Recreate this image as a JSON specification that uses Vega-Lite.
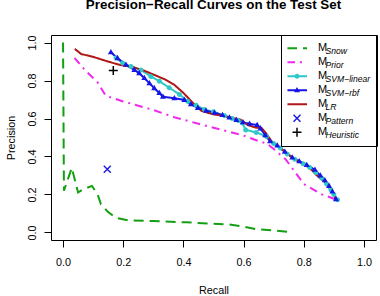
{
  "$schema": "https://vega.github.io/schema/vega-lite/v6.json",
  "width": 325,
  "height": 205,
  "autosize": "none",
  "padding": {"left": 51, "top": 35, "right": 4, "bottom": 56},
  "background": "white",
  "title": {
    "text": "Precision−Recall Curves on the Test Set",
    "font": "Liberation Sans",
    "fontSize": 13.4,
    "fontWeight": "bold",
    "color": "black",
    "anchor": "middle",
    "frame": "group",
    "baseline": "alphabetic",
    "offset": 12.5
  },
  "config": {
    "view": {"stroke": "black", "strokeWidth": 1},
    "font": "Liberation Sans",
    "axis": {
      "grid": false,
      "domain": false,
      "tickSize": 7,
      "tickColor": "black",
      "tickWidth": 1,
      "labelFont": "Liberation Sans",
      "labelFontSize": 10.8,
      "labelColor": "black",
      "labelFlush": false,
      "labelOverlap": false,
      "titleFont": "Liberation Sans",
      "titleFontSize": 10.8,
      "titleFontWeight": "normal",
      "titleColor": "black"
    }
  },
  "datasets": {
    "pr": [
      {"model": "Snow", "recall": 0.0, "precision": 1.0},
      {"model": "Snow", "recall": 0.003, "precision": 0.22},
      {"model": "Snow", "recall": 0.029, "precision": 0.34},
      {"model": "Snow", "recall": 0.05, "precision": 0.21},
      {"model": "Snow", "recall": 0.065, "precision": 0.225},
      {"model": "Snow", "recall": 0.096, "precision": 0.245},
      {"model": "Snow", "recall": 0.115, "precision": 0.2},
      {"model": "Snow", "recall": 0.126, "precision": 0.148},
      {"model": "Snow", "recall": 0.148, "precision": 0.11},
      {"model": "Snow", "recall": 0.176, "precision": 0.076},
      {"model": "Snow", "recall": 0.22, "precision": 0.063},
      {"model": "Snow", "recall": 0.3, "precision": 0.06},
      {"model": "Snow", "recall": 0.41, "precision": 0.053},
      {"model": "Snow", "recall": 0.55, "precision": 0.042},
      {"model": "Snow", "recall": 0.6, "precision": 0.03},
      {"model": "Snow", "recall": 0.64, "precision": 0.018},
      {"model": "Snow", "recall": 0.75, "precision": 0.003},

      {"model": "Prior", "recall": 0.038, "precision": 0.92},
      {"model": "Prior", "recall": 0.07, "precision": 0.86},
      {"model": "Prior", "recall": 0.115, "precision": 0.79},
      {"model": "Prior", "recall": 0.142, "precision": 0.72},
      {"model": "Prior", "recall": 0.2, "precision": 0.69},
      {"model": "Prior", "recall": 0.3, "precision": 0.645},
      {"model": "Prior", "recall": 0.37, "precision": 0.607},
      {"model": "Prior", "recall": 0.45, "precision": 0.572},
      {"model": "Prior", "recall": 0.53, "precision": 0.539},
      {"model": "Prior", "recall": 0.6, "precision": 0.51},
      {"model": "Prior", "recall": 0.648, "precision": 0.482},
      {"model": "Prior", "recall": 0.68, "precision": 0.466},
      {"model": "Prior", "recall": 0.703, "precision": 0.435},
      {"model": "Prior", "recall": 0.74, "precision": 0.385},
      {"model": "Prior", "recall": 0.8, "precision": 0.255},
      {"model": "Prior", "recall": 0.86, "precision": 0.2},
      {"model": "Prior", "recall": 0.905, "precision": 0.175},

      {"model": "SVM−linear", "recall": 0.176, "precision": 0.92},
      {"model": "SVM−linear", "recall": 0.198, "precision": 0.892},
      {"model": "SVM−linear", "recall": 0.226, "precision": 0.874},
      {"model": "SVM−linear", "recall": 0.259, "precision": 0.856},
      {"model": "SVM−linear", "recall": 0.292, "precision": 0.821},
      {"model": "SVM−linear", "recall": 0.32, "precision": 0.797},
      {"model": "SVM−linear", "recall": 0.353, "precision": 0.762},
      {"model": "SVM−linear", "recall": 0.387, "precision": 0.727},
      {"model": "SVM−linear", "recall": 0.415, "precision": 0.69},
      {"model": "SVM−linear", "recall": 0.442, "precision": 0.67},
      {"model": "SVM−linear", "recall": 0.47, "precision": 0.648},
      {"model": "SVM−linear", "recall": 0.5, "precision": 0.636},
      {"model": "SVM−linear", "recall": 0.537, "precision": 0.615},
      {"model": "SVM−linear", "recall": 0.562, "precision": 0.6},
      {"model": "SVM−linear", "recall": 0.582, "precision": 0.59},
      {"model": "SVM−linear", "recall": 0.596, "precision": 0.576},
      {"model": "SVM−linear", "recall": 0.607, "precision": 0.54},
      {"model": "SVM−linear", "recall": 0.642, "precision": 0.527},
      {"model": "SVM−linear", "recall": 0.676, "precision": 0.505},
      {"model": "SVM−linear", "recall": 0.7, "precision": 0.468},
      {"model": "SVM−linear", "recall": 0.722, "precision": 0.445},
      {"model": "SVM−linear", "recall": 0.745, "precision": 0.413},
      {"model": "SVM−linear", "recall": 0.77, "precision": 0.385},
      {"model": "SVM−linear", "recall": 0.798, "precision": 0.362},
      {"model": "SVM−linear", "recall": 0.82, "precision": 0.342},
      {"model": "SVM−linear", "recall": 0.84, "precision": 0.315},
      {"model": "SVM−linear", "recall": 0.86, "precision": 0.285},
      {"model": "SVM−linear", "recall": 0.876, "precision": 0.255},
      {"model": "SVM−linear", "recall": 0.89, "precision": 0.225},
      {"model": "SVM−linear", "recall": 0.9, "precision": 0.2},
      {"model": "SVM−linear", "recall": 0.912, "precision": 0.172},

      {"model": "SVM−rbf", "recall": 0.159, "precision": 0.949},
      {"model": "SVM−rbf", "recall": 0.181, "precision": 0.918},
      {"model": "SVM−rbf", "recall": 0.209, "precision": 0.883},
      {"model": "SVM−rbf", "recall": 0.237, "precision": 0.856},
      {"model": "SVM−rbf", "recall": 0.253, "precision": 0.839},
      {"model": "SVM−rbf", "recall": 0.27, "precision": 0.813},
      {"model": "SVM−rbf", "recall": 0.287, "precision": 0.786},
      {"model": "SVM−rbf", "recall": 0.303, "precision": 0.76},
      {"model": "SVM−rbf", "recall": 0.32, "precision": 0.734},
      {"model": "SVM−rbf", "recall": 0.332, "precision": 0.715},
      {"model": "SVM−rbf", "recall": 0.37, "precision": 0.707},
      {"model": "SVM−rbf", "recall": 0.403, "precision": 0.698},
      {"model": "SVM−rbf", "recall": 0.425, "precision": 0.675},
      {"model": "SVM−rbf", "recall": 0.448, "precision": 0.656},
      {"model": "SVM−rbf", "recall": 0.475, "precision": 0.641},
      {"model": "SVM−rbf", "recall": 0.503, "precision": 0.63},
      {"model": "SVM−rbf", "recall": 0.53, "precision": 0.618},
      {"model": "SVM−rbf", "recall": 0.553, "precision": 0.605},
      {"model": "SVM−rbf", "recall": 0.576, "precision": 0.592},
      {"model": "SVM−rbf", "recall": 0.598, "precision": 0.58},
      {"model": "SVM−rbf", "recall": 0.62, "precision": 0.572},
      {"model": "SVM−rbf", "recall": 0.645, "precision": 0.566},
      {"model": "SVM−rbf", "recall": 0.656, "precision": 0.548},
      {"model": "SVM−rbf", "recall": 0.672, "precision": 0.512},
      {"model": "SVM−rbf", "recall": 0.688, "precision": 0.48},
      {"model": "SVM−rbf", "recall": 0.712, "precision": 0.458},
      {"model": "SVM−rbf", "recall": 0.737, "precision": 0.425},
      {"model": "SVM−rbf", "recall": 0.762, "precision": 0.395},
      {"model": "SVM−rbf", "recall": 0.785, "precision": 0.375},
      {"model": "SVM−rbf", "recall": 0.81, "precision": 0.355},
      {"model": "SVM−rbf", "recall": 0.837, "precision": 0.33},
      {"model": "SVM−rbf", "recall": 0.855, "precision": 0.3},
      {"model": "SVM−rbf", "recall": 0.87, "precision": 0.275},
      {"model": "SVM−rbf", "recall": 0.884, "precision": 0.245},
      {"model": "SVM−rbf", "recall": 0.895, "precision": 0.215},
      {"model": "SVM−rbf", "recall": 0.907, "precision": 0.175},

      {"model": "LR", "recall": 0.039, "precision": 0.967},
      {"model": "LR", "recall": 0.06, "precision": 0.94},
      {"model": "LR", "recall": 0.1, "precision": 0.925},
      {"model": "LR", "recall": 0.15, "precision": 0.9},
      {"model": "LR", "recall": 0.19, "precision": 0.882},
      {"model": "LR", "recall": 0.23, "precision": 0.872},
      {"model": "LR", "recall": 0.27, "precision": 0.852},
      {"model": "LR", "recall": 0.3, "precision": 0.832},
      {"model": "LR", "recall": 0.34, "precision": 0.805},
      {"model": "LR", "recall": 0.37, "precision": 0.777},
      {"model": "LR", "recall": 0.4, "precision": 0.735},
      {"model": "LR", "recall": 0.43, "precision": 0.685},
      {"model": "LR", "recall": 0.46, "precision": 0.64},
      {"model": "LR", "recall": 0.5, "precision": 0.622},
      {"model": "LR", "recall": 0.54, "precision": 0.612},
      {"model": "LR", "recall": 0.59, "precision": 0.594},
      {"model": "LR", "recall": 0.615, "precision": 0.565},
      {"model": "LR", "recall": 0.64, "precision": 0.552},
      {"model": "LR", "recall": 0.66, "precision": 0.55},
      {"model": "LR", "recall": 0.678, "precision": 0.515},
      {"model": "LR", "recall": 0.692, "precision": 0.482},
      {"model": "LR", "recall": 0.73, "precision": 0.435},
      {"model": "LR", "recall": 0.765, "precision": 0.39},
      {"model": "LR", "recall": 0.8, "precision": 0.358},
      {"model": "LR", "recall": 0.82, "precision": 0.34},
      {"model": "LR", "recall": 0.84, "precision": 0.305},
      {"model": "LR", "recall": 0.87, "precision": 0.265},
      {"model": "LR", "recall": 0.895, "precision": 0.215},
      {"model": "LR", "recall": 0.91, "precision": 0.172},

      {"model": "Pattern", "recall": 0.147, "precision": 0.333},
      {"model": "Heuristic", "recall": 0.167, "precision": 0.853}
    ]
  },
  "data": {"name": "pr"},
  "encoding": {
    "x": {
      "field": "recall",
      "type": "quantitative",
      "scale": {"domain": [-0.04, 1.04], "nice": false, "zero": false},
      "axis": {
        "title": "Recall",
        "values": [0, 0.2, 0.4, 0.6, 0.8, 1],
        "format": ".1f",
        "labelBaseline": "alphabetic",
        "labelPadding": 18.7,
        "titleBaseline": "alphabetic",
        "titleX": 162.5,
        "titleY": 53.3
      }
    },
    "y": {
      "field": "precision",
      "type": "quantitative",
      "scale": {"domain": [-0.04, 1.04], "nice": false, "zero": false},
      "axis": {
        "title": "Precision",
        "values": [0, 0.2, 0.4, 0.6, 0.8, 1],
        "format": ".1f",
        "labelAngle": 270,
        "labelAlign": "center",
        "labelBaseline": "alphabetic",
        "labelPadding": 9,
        "titleAngle": 270,
        "titleAlign": "center",
        "titleBaseline": "alphabetic",
        "titleX": -36.7,
        "titleY": 102.5
      }
    }
  },
  "layer": [
    {
      "transform": [{"filter": {"field": "model", "oneOf": ["Snow", "Prior", "SVM−rbf", "SVM−linear", "LR"]}}],
      "mark": {"type": "line", "strokeWidth": 2, "strokeCap": "butt"},
      "encoding": {
        "color": {
          "field": "model",
          "type": "nominal",
          "scale": {
            "domain": ["Snow", "Prior", "SVM−linear", "SVM−rbf", "LR", "Pattern", "Heuristic"],
            "range": ["#12a012", "#ee2aee", "#2ec8c8", "#1515e6", "#b01818", "transparent", "transparent"]
          },
          "legend": {
            "orient": "none",
            "legendX": 230,
            "legendY": 0,
            "title": null,
            "labelExpr": "'M'",
            "labelFont": "Liberation Sans",
            "labelFontSize": 11,
            "labelColor": "black",
            "symbolType": "stroke",
            "symbolSize": 400,
            "symbolStrokeWidth": 2,
            "symbolOffset": -1.45,
            "labelOffset": 10,
            "padding": 6.45,
            "clipHeight": 13.7,
            "rowPadding": 0
          }
        },
        "strokeDash": {
          "field": "model",
          "type": "nominal",
          "scale": {
            "domain": ["Snow", "Prior", "SVM−linear", "SVM−rbf", "LR", "Pattern", "Heuristic"],
            "range": [[10, 6], [8, 5, 2, 5], [1, 0], [1, 0], [1, 0], [1, 0], [1, 0]]
          }
        }
      }
    },
    {
      "transform": [{"filter": {"field": "model", "oneOf": ["SVM−linear", "SVM−rbf", "Pattern", "Heuristic"]}}],
      "mark": {"type": "point", "filled": true, "size": 400, "opacity": 1},
      "encoding": {
        "color": {
          "field": "model",
          "type": "nominal",
          "scale": {
            "domain": ["Snow", "Prior", "SVM−linear", "SVM−rbf", "LR", "Pattern", "Heuristic"],
            "range": ["#12a012", "#ee2aee", "#2ec8c8", "#1515e6", "#b01818", "#1a1ae0", "#000000"]
          },
          "legend": {
            "orient": "none",
            "legendX": 230,
            "legendY": 0,
            "title": null,
            "labelFont": "Liberation Sans",
            "labelFontSize": 8.6,
            "labelFontStyle": "italic",
            "labelBaseline": "middle",
            "labelColor": "black",
            "symbolSize": 400,
            "symbolOffset": -1.45,
            "labelOffset": 17.5,
            "padding": 6.45,
            "clipHeight": 13.7,
            "rowPadding": 0,
            "strokeColor": "black",
            "encoding": {"labels": {"dy": {"value": 2.2}}}
          }
        },
        "shape": {
          "field": "model",
          "type": "nominal",
          "scale": {
            "domain": ["Snow", "Prior", "SVM−linear", "SVM−rbf", "LR", "Pattern", "Heuristic"],
            "range": [
              "M0,0",
              "M0,0",
              "M-0.25,0A0.25,0.25,0,1,0,0.25,0A0.25,0.25,0,1,0,-0.25,0Z",
              "M0,-0.33L0.3,0.2L-0.3,0.2Z",
              "M0,0",
              "M-0.4,-0.3L0.3,0.4L0.4,0.3L-0.3,-0.4ZM-0.3,0.4L0.4,-0.3L0.3,-0.4L-0.4,0.3Z",
              "M-0.45,-0.075L-0.075,-0.075L-0.075,-0.45L0.075,-0.45L0.075,-0.075L0.45,-0.075L0.45,0.075L0.075,0.075L0.075,0.45L-0.075,0.45L-0.075,0.075L-0.45,0.075Z"
            ]
          }
        }
      }
    }
  ],
  "resolve": {"scale": {"color": "independent", "strokeDash": "independent", "shape": "independent"}}
}
